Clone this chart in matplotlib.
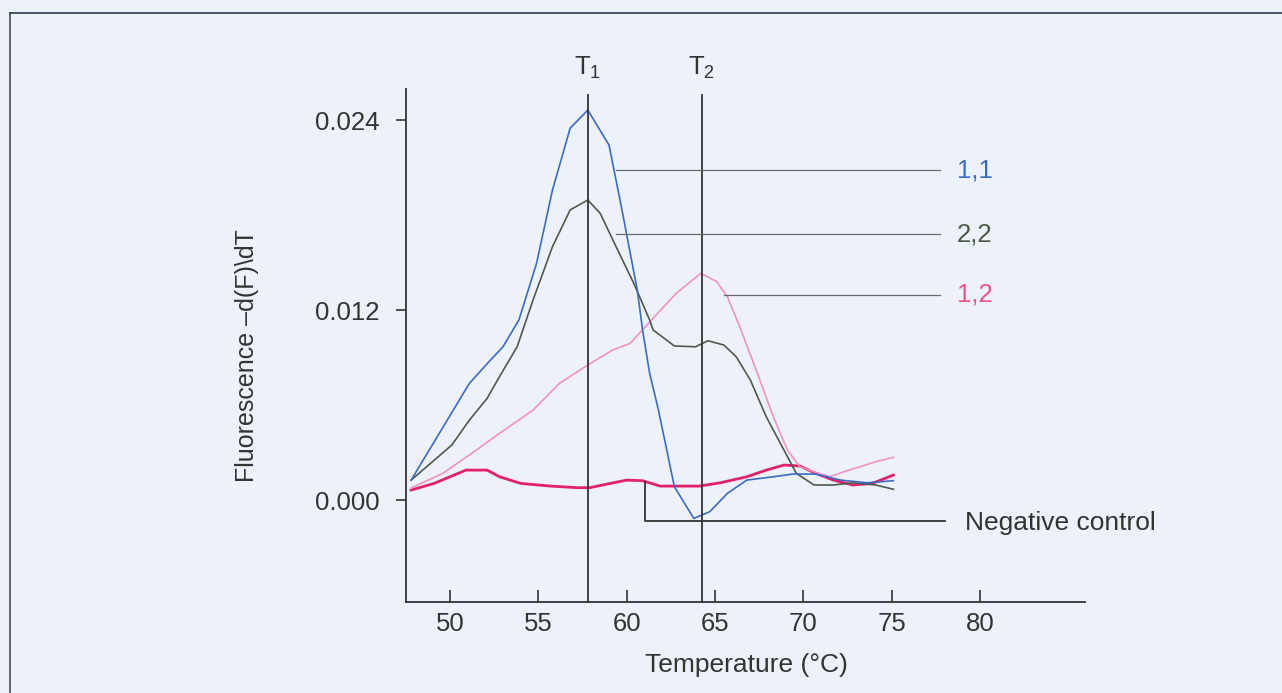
import matplotlib as mpl
mpl.use('Agg')
import matplotlib.pyplot as plt
from matplotlib.lines import Line2D

plt.rcParams['font.family'] = ['Liberation Sans', 'DejaVu Sans']
plt.rcParams['mathtext.fontset'] = 'custom'
plt.rcParams['mathtext.rm'] = 'Liberation Sans'
plt.rcParams['mathtext.it'] = 'Liberation Sans'

# melting curves, -dF/dT in units of 1e-3
temp_11 = [47.8, 51.1, 52.2, 53.0, 53.9, 54.9, 55.8, 56.8, 57.8, 59.0, 59.7, 60.6,
           60.9, 61.3, 61.8, 62.7, 63.8, 64.7, 65.7, 66.8, 68.3, 69.4, 70.7, 72.1,
           73.6, 75.1]
val_11 = [1.26, 7.37, 8.73, 9.68, 11.37, 14.95, 19.58, 23.48, 24.63, 22.42, 18.52, 13.26,
          10.74, 8.0, 5.68, 0.84, -1.16, -0.74, 0.42, 1.26, 1.47, 1.64, 1.64, 1.26,
          1.09, 1.22]

temp_22 = [47.8, 50.1, 51.1, 52.1, 52.8, 53.8, 54.7, 55.8, 56.8, 57.8, 58.5, 59.4,
           60.4, 61.3, 61.5, 62.7, 63.9, 64.6, 65.5, 66.2, 67.0, 67.9, 68.8, 69.6,
           70.6, 71.7, 72.8, 74.1, 75.1]
val_22 = [1.26, 3.47, 5.05, 6.42, 7.79, 9.68, 12.63, 16.0, 18.32, 18.95, 18.11, 16.0,
          13.69, 11.37, 10.74, 9.73, 9.68, 10.06, 9.79, 9.05, 7.58, 5.26, 3.37, 1.69,
          0.95, 0.95, 1.09, 0.95, 0.68]

temp_12 = [47.8, 49.6, 51.5, 52.8, 54.7, 56.2, 57.8, 59.2, 60.2, 61.5, 62.8, 64.2,
           65.1, 65.7, 66.4, 67.4, 68.3, 69.1, 69.8, 70.6, 71.5, 72.3, 73.2, 74.1, 75.1]
val_12 = [0.76, 1.69, 3.16, 4.21, 5.68, 7.37, 8.53, 9.47, 9.90, 11.48, 13.05, 14.32,
          13.79, 12.84, 10.95, 8.0, 5.26, 3.16, 2.10, 1.79, 1.47, 1.79, 2.10, 2.42, 2.70]

temp_neg = [47.8, 49.1, 50.9, 52.1, 52.8, 54.0, 55.7, 57.2, 57.9, 58.9, 60.0, 60.9,
            61.9, 62.8, 64.1, 65.3, 66.8, 67.9, 68.9, 69.8, 70.7, 71.7, 72.8, 73.9, 75.1]
val_neg = [0.63, 1.05, 1.89, 1.89, 1.47, 1.05, 0.88, 0.78, 0.78, 1.01, 1.26, 1.22,
           0.88, 0.88, 0.88, 1.09, 1.47, 1.89, 2.21, 2.15, 1.69, 1.26, 0.95, 1.05, 1.58]

t1 = 57.8
t2 = 64.25
y_ticks = [0.0, 0.012, 0.024]
x_ticks = [50, 55, 60, 65, 70, 75, 80]

BG = '#edf1f9'
INK = '#333333'
C11 = '#3b6cc4'
C22 = '#4d5a4c'
C12 = '#f291c4'
CNEG = '#e3206c'
FS = 18.5

fig = plt.figure(figsize=(12.82, 6.93), dpi=100, facecolor=BG)
ax = fig.add_axes([0.3167, 0.1313, 0.5296, 0.7403], facecolor=BG)

# outer frame, open to the right and bottom
fig.add_artist(Line2D([10 / 1282, 10 / 1282], [1 - 13 / 693, 0], transform=fig.transFigure,
                      color='#555a66', lw=1.3))
fig.add_artist(Line2D([10 / 1282, 1], [1 - 13 / 693, 1 - 13 / 693], transform=fig.transFigure,
                      color='#3c4660', lw=1.3))

sc = 1e-3
ax.plot(temp_neg, [v * sc for v in val_neg], color=CNEG, lw=2.0)
ax.plot(temp_12, [v * sc for v in val_12], color=C12, lw=1.2)
ax.plot(temp_22, [v * sc for v in val_22], color=C22, lw=1.2)
ax.plot(temp_11, [v * sc for v in val_11], color=C11, lw=1.2)

ax.set_xlim(47.51, 85.94)
ax.set_ylim(-0.00644, 0.02596)

# T1 / T2 markers
for xt, lab in [(t1, 'T$_1$'), (t2, 'T$_2$')]:
    ax.plot([xt, xt], [-0.00644, 0.02558], color=INK, lw=1.3, clip_on=False)
    ax.text(xt, 0.0273, lab, ha='center', va='center', fontsize=FS, color=INK)

# leader lines and curve names
lead = '#6a6a6a'
ax.plot([59.39, 77.71], [0.02084, 0.02084], color=lead, lw=0.9)
ax.plot([59.39, 77.71], [0.0168, 0.0168], color=lead, lw=0.9)
ax.plot([65.5, 77.71], [0.01295, 0.01295], color=lead, lw=0.9)
ax.plot([61.03, 61.03, 78.0], [0.00116, -0.00131, -0.00131], color=INK, lw=1.3)
ax.text(78.68, 0.02084, '1,1', ha='left', va='center', fontsize=FS, color=C11)
ax.text(78.68, 0.0168, '2,2', ha='left', va='center', fontsize=FS, color='#4b5a47')
ax.text(78.68, 0.01295, '1,2', ha='left', va='center', fontsize=FS, color='#f2528a')
ax.text(79.13, -0.00145, 'Negative control', ha='left', va='center', fontsize=19, color=INK)

for s in ['top', 'right']:
    ax.spines[s].set_visible(False)
for s in ['left', 'bottom']:
    ax.spines[s].set_color(INK)
    ax.spines[s].set_linewidth(1.3)

ax.set_xticks(x_ticks)
ax.set_yticks(y_ticks)
ax.set_yticklabels(['%.3f' % v for v in y_ticks])
ax.tick_params(axis='x', direction='in', length=9, width=1.2, color=INK,
               labelsize=FS, labelcolor=INK, pad=7)
ax.tick_params(axis='y', direction='out', length=7, width=1.2, color=INK,
               labelsize=FS, labelcolor=INK, pad=12)

ax.set_xlabel('Temperature (°C)', fontsize=19, color=INK)
ax.xaxis.set_label_coords(0.5007, -0.123)
ax.xaxis.label.set_va('center')
ax.set_ylabel('Fluorescence –d(F)\\dT', fontsize=18, color=INK, va='center')
ax.yaxis.set_label_coords(-0.234, 0.481)

fig.savefig('out.png', dpi=100, facecolor=BG)
